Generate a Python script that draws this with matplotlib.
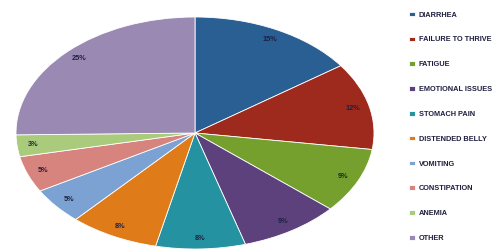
import matplotlib.pyplot as plt

labels = ["DIARRHEA", "FAILURE TO THRIVE", "FATIGUE", "EMOTIONAL ISSUES",
          "STOMACH PAIN", "DISTENDED BELLY", "VOMITING", "CONSTIPATION",
          "ANEMIA", "OTHER"]
shares = [15, 12, 9, 9, 8, 8, 5, 5, 3, 25]
colors = ["#2A5F94", "#9E2A1E", "#76A02D", "#5C417D", "#2592A1",
          "#E07B1A", "#7BA2D3", "#D7837E", "#AACB7C", "#9A8AB3"]

plt.rcParams["font.family"] = ["Liberation Sans", "DejaVu Sans"]

fig = plt.figure(figsize=(5, 2.5), dpi=100)
ax = fig.add_axes([0.032, 0.004, 0.716, 0.928])

wedges, texts, autotexts = ax.pie(
    shares, colors=colors, startangle=90, counterclock=False,
    autopct=lambda p: "%d%%" % round(p * sum(shares) / 100),
    pctdistance=0.91, wedgeprops=dict(linewidth=0.6, edgecolor="white"),
    textprops=dict(fontsize=5.3, fontweight="bold", color="#1F1F3F"))
ax.set_aspect("auto")
ax.set_xlim(-1, 1)
ax.set_ylim(-1, 1)

fig.legend(wedges, labels, loc="upper left", bbox_to_anchor=(0.805, 0.98),
           frameon=False, handlelength=0.85, handleheight=0.6, handletextpad=0.45,
           labelspacing=2.42, prop=dict(size=5.3, weight="bold"),
           labelcolor="#1F1F3F")

fig.savefig("out.png", dpi=100)
